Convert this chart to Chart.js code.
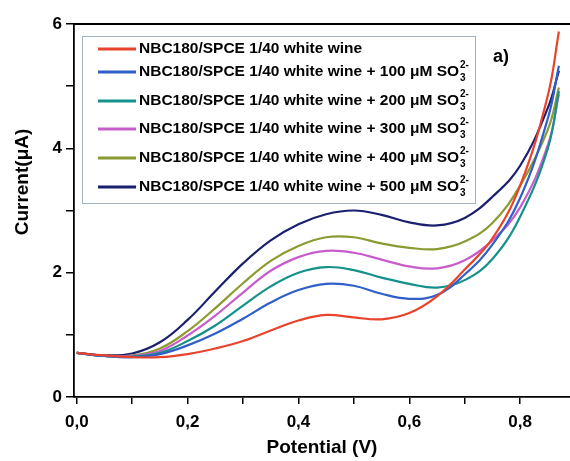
<!DOCTYPE html>
<html>
<head>
<meta charset="utf-8">
<script src="https://cdn.jsdelivr.net/npm/chart.js@4.4.1/dist/chart.umd.min.js"></script>
<style>
  html, body { margin: 0; padding: 0; background: #fff; }
  canvas { display: block; }
</style>
</head>
<body>
<canvas id="chart" width="570" height="461"></canvas>
<script>
// potential (V) shared by all the voltammograms
const potential = [0.00, 0.05, 0.10, 0.15, 0.20, 0.25, 0.30, 0.35, 0.40, 0.45, 0.50, 0.55, 0.60, 0.65, 0.70, 0.75, 0.80, 0.85, 0.87];

// current (uA)
const wine0   = [0.71, 0.67, 0.64, 0.64, 0.69, 0.78, 0.90, 1.07, 1.23, 1.32, 1.28, 1.25, 1.35, 1.62, 2.05, 2.55, 3.40, 4.85, 5.88];
const wine100 = [0.71, 0.66, 0.64, 0.69, 0.83, 1.02, 1.26, 1.52, 1.72, 1.82, 1.79, 1.66, 1.58, 1.64, 1.97, 2.45, 3.20, 4.48, 5.33];
const wine200 = [0.71, 0.66, 0.65, 0.71, 0.90, 1.15, 1.47, 1.78, 2.00, 2.09, 2.04, 1.92, 1.82, 1.76, 1.88, 2.22, 2.90, 4.00, 4.92];
const wine300 = [0.71, 0.66, 0.66, 0.74, 0.99, 1.31, 1.68, 2.03, 2.25, 2.35, 2.32, 2.21, 2.10, 2.07, 2.20, 2.52, 3.05, 4.05, 4.87];
const wine400 = [0.71, 0.66, 0.67, 0.78, 1.06, 1.43, 1.83, 2.19, 2.43, 2.57, 2.57, 2.47, 2.40, 2.38, 2.50, 2.80, 3.40, 4.30, 4.98];
const wine500 = [0.71, 0.67, 0.70, 0.88, 1.24, 1.70, 2.15, 2.52, 2.78, 2.94, 3.00, 2.93, 2.81, 2.76, 2.88, 3.22, 3.72, 4.65, 5.25];

const concentrations = [0, 100, 200, 300, 400, 500];
const seriesColors = ['#e8432b', '#2f5fc8', '#14918a', '#c85ccc', '#8c9a32', '#1a1f6e'];

const xTicks = [0, 0.1, 0.2, 0.3, 0.4, 0.5, 0.6, 0.7, 0.8];
const xTickLabels = ['0,0', '', '0,2', '', '0,4', '', '0,6', '', '0,8'];
const yTicks = [0, 1, 2, 3, 4, 5, 6];
const yTickLabels = ['0', '', '2', '', '4', '', '6'];

const FONT = '"Liberation Sans", Arial, sans-serif';
const allSeries = [wine0, wine100, wine200, wine300, wine400, wine500];

function makeLabel(c) {
    let text = 'NBC180/SPCE 1/40 white wine';
    if (c > 0) {
        text += ' + ' + c + ' \u03bcM SO';
    }
    return text;
}

const datasets = allSeries.map((values, i) => ({
    label: makeLabel(concentrations[i]),
    data: values.map((v, j) => ({ x: potential[j], y: v })),
    borderColor: seriesColors[i],
    backgroundColor: seriesColors[i],
    borderWidth: 2.2,
    pointRadius: 0,
    fill: false,
    tension: 0.4
}));

// legend with the SO3 2- sub/superscript, plus frame and extra labels
const decorations = {
    id: 'decorations',
    afterDraw(chart) {
        const ctx = chart.ctx;
        const area = chart.chartArea;
        ctx.save();

        // top frame line
        ctx.strokeStyle = '#000';
        ctx.lineWidth = 1.8;
        ctx.beginPath();
        ctx.moveTo(area.left, area.top);
        ctx.lineTo(area.right, area.top);
        ctx.stroke();

        // legend box
        ctx.fillStyle = '#fff';
        ctx.fillRect(82, 36, 393, 167);
        ctx.strokeStyle = '#9fb3c2';
        ctx.lineWidth = 1;
        ctx.strokeRect(82.5, 36.5, 393, 167);

        const rows = [49, 72, 101, 129, 158, 187];
        chart.data.datasets.forEach((ds, i) => {
            const y = rows[i];
            ctx.strokeStyle = ds.borderColor;
            ctx.lineWidth = 3;
            ctx.beginPath();
            ctx.moveTo(98, y);
            ctx.lineTo(136, y);
            ctx.stroke();

            ctx.fillStyle = '#000';
            ctx.textBaseline = 'middle';
            ctx.textAlign = 'left';
            ctx.font = 'bold 15.5px ' + FONT;
            ctx.fillText(ds.label, 139, y);
            if (concentrations[i] > 0) {
                const w = ctx.measureText(ds.label).width;
                ctx.font = 'bold 10px ' + FONT;
                ctx.fillText('2-', 139 + w + 1, y - 7);
                ctx.fillText('3', 139 + w + 1, y + 6);
            }
        });

        // panel label
        ctx.fillStyle = '#000';
        ctx.font = 'bold 18px ' + FONT;
        ctx.textAlign = 'left';
        ctx.textBaseline = 'middle';
        ctx.fillText('a)', 493, 57);

        // y axis title
        ctx.translate(23, 182);
        ctx.rotate(-Math.PI / 2);
        ctx.textAlign = 'center';
        ctx.font = 'bold 19px ' + FONT;
        ctx.fillText('Current(\u03bcA)', 0, 0);
        ctx.restore();
    }
};

new Chart('chart', {
    type: 'line',
    data: { datasets: datasets },
    options: {
        responsive: false,
        animation: false,
        devicePixelRatio: 1,
        layout: { padding: { top: 24, right: 0, left: 0, bottom: 0 } },
        plugins: {
            legend: { display: false },
            tooltip: { enabled: false }
        },
        scales: {
            x: {
                type: 'linear',
                min: -0.005,
                max: 0.89,
                afterBuildTicks: s => { s.ticks = xTicks.map(v => ({ value: v })); },
                afterFit: s => { s.height = 64; },
                grid: { drawOnChartArea: false, drawTicks: true, tickLength: 7, color: '#000', lineWidth: 1.5 },
                border: { display: true, color: '#000', width: 1.8 },
                ticks: {
                    color: '#000',
                    font: { family: FONT, size: 17, weight: 'bold' },
                    padding: 8,
                    maxRotation: 0,
                    autoSkip: false,
                    callback: (v, i) => xTickLabels[i]
                },
                title: {
                    display: true,
                    text: 'Potential (V)',
                    color: '#000',
                    font: { family: FONT, size: 19, weight: 'bold' },
                    padding: { top: 0, bottom: 2 }
                }
            },
            y: {
                min: 0,
                max: 6,
                afterBuildTicks: s => { s.ticks = yTicks.map(v => ({ value: v })); },
                afterFit: s => { s.width = 74; },
                grid: { drawOnChartArea: false, drawTicks: true, tickLength: 8, color: '#000', lineWidth: 1.5 },
                border: { display: true, color: '#000', width: 1.8 },
                ticks: {
                    color: '#000',
                    font: { family: FONT, size: 17, weight: 'bold' },
                    padding: 4,
                    autoSkip: false,
                    callback: (v, i) => yTickLabels[i]
                }
            }
        }
    },
    plugins: [decorations]
});
</script>
</body>
</html>
